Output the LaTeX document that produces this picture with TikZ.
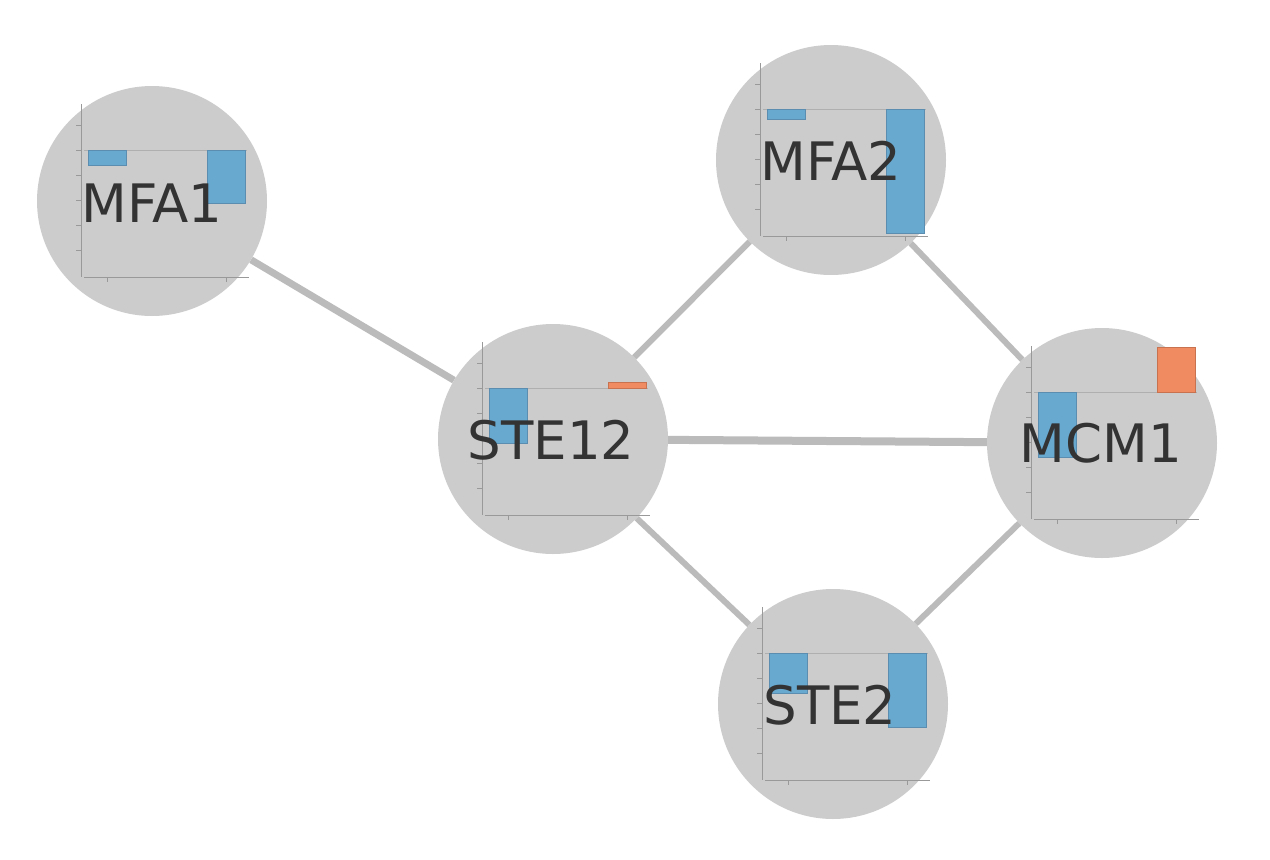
\documentclass[tikz,border=0pt]{standalone}
\usepackage{fontspec}
\newfontfamily\labfont{DejaVu Sans}
\definecolor{nodegray}{HTML}{CCCCCC}
\definecolor{edgegray}{HTML}{BBBBBB}
\definecolor{barblue}{HTML}{68A9D0}
\definecolor{barblueline}{HTML}{5A8DB0}
\definecolor{barorange}{HTML}{F08A60}
\definecolor{barorangeline}{HTML}{C87250}
\definecolor{axisgray}{HTML}{999999}
\definecolor{zerogray}{HTML}{AFAFAF}
\definecolor{labelgray}{HTML}{333333}
\tikzset{
  gene/.style={circle, fill=nodegray, minimum size=230pt, inner sep=0pt},
  genelabel/.style={font=\labfont\fontsize{53}{53}\selectfont, text=labelgray, inner sep=0pt},
  edge/.style={draw=edgegray, line width=6pt},
  axisline/.style={draw=axisgray, line width=1pt},
  zeroline/.style={draw=zerogray, line width=1pt},
  bluebar/.style={fill=barblue, draw=barblueline, line width=0.8pt},
  orangebar/.style={fill=barorange, draw=barorangeline, line width=0.8pt},
}
% #1 node, #2 bar1 style, #3 bar1 end, #4 bar2 style, #5 bar2 end
\newcommand\genechart[5]{%
  \begin{scope}[shift={(#1.center)}]
    \draw[axisline] (-71,-97) -- (-71,76);
    \foreach \t in {-76,-51,-26,-1,24,49} \draw[axisline] (-76,\t) -- (-71,\t);
    \draw[axisline] (-68,76) -- (97,76);
    \foreach \t in {-45,74} \draw[axisline] (\t,77) -- (\t,81);
    \draw[zeroline] (-68,-51) -- (95,-51);
    \filldraw[#2] (-64,-51) rectangle (-26,#3);
    \filldraw[#4] (55,-51) rectangle (93,#5);
  \end{scope}}
\begin{document}
\begin{tikzpicture}[x=1pt,y=-1pt]
  \useasboundingbox (0,0) rectangle (1270,860);
  \fill[white] (0,0) rectangle (1270,860);
  % gene circles
  \node[gene] (MFA1)  at (152,201) {};
  \node[gene] (MFA2)  at (831,160) {};
  \node[gene] (STE12) at (553,439) {};
  \node[gene] (MCM1)  at (1102,443) {};
  \node[gene] (STE2)  at (833,704) {};
  % interactions
  \draw[edge, line width=7pt] (MFA1) -- (STE12);
  \draw[edge] (STE12) -- (MFA2);
  \draw[edge, line width=8pt] (STE12) -- (MCM1);
  \draw[edge] (STE12) -- (STE2);
  \draw[edge] (MFA2) -- (MCM1);
  \draw[edge] (STE2) -- (MCM1);
  % charts
  \genechart{MFA1}{bluebar}{-36}{bluebar}{2}
  \genechart{MFA2}{bluebar}{-41}{bluebar}{73}
  \genechart{STE12}{bluebar}{4}{orangebar}{-57}
  \genechart{MCM1}{bluebar}{14}{orangebar}{-96}
  \genechart{STE2}{bluebar}{-11}{bluebar}{23}
  % labels
  \node[genelabel] (MFA1-l)  at ([yshift=-2pt]MFA1.center)  {MFA1};
  \node[genelabel] (MFA2-l)  at ([yshift=-1pt]MFA2.center)  {MFA2};
  \node[genelabel] (STE12-l) at ([xshift=-2pt,yshift=-1pt]STE12.center) {STE12};
  \node[genelabel] (MCM1-l)  at ([xshift=-1pt]MCM1.center)  {MCM1};
  \node[genelabel] (STE2-l)  at ([xshift=-3pt,yshift=-1pt]STE2.center)  {STE2};
\end{tikzpicture}
\end{document}
